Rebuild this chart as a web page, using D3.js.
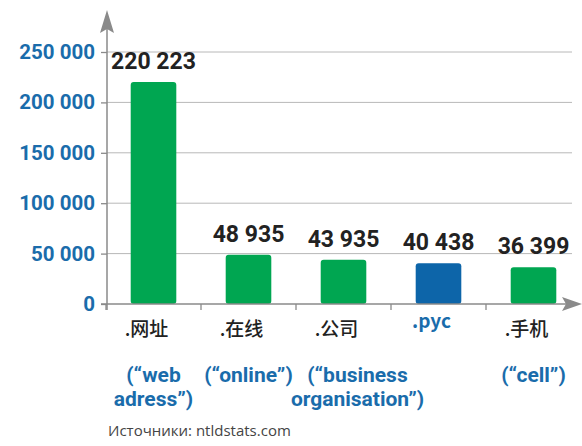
<!DOCTYPE html>
<html>
<head>
<meta charset="utf-8">
<script src="https://cdn.jsdelivr.net/npm/d3@7"></script>
<style>
body { margin: 0; background: #fff; }
</style>
</head>
<body>
<div id="chart-area"></div>
<script>
var categories = [".网址", ".在线", ".公司", ".рус", ".手机"];
var values = [220223, 48935, 43935, 40438, 36399];
var translations = [["(“web", "adress”)"], ["(“online”)"], ["(“business", "organisation”)"], [], ["(“cell”)"]];
var highlighted = [false, false, false, true, false];
var yTicks = [0, 50000, 100000, 150000, 200000, 250000];
var source = "Источники: ntldstats.com";

var width = 582;
var height = 446;
var green = "#00a651";
var blue = "#0d65a9";
var labelBlue = "#1a6cab";

var svg = d3.select("#chart-area")
	.append("svg")
		.attr("width", width)
		.attr("height", height)
		.style("font-family", "Roboto, 'Noto Sans', sans-serif");

var x = d3.scaleBand()
	.domain(categories)
	.range([106, 581])
	.paddingInner(0.52)
	.paddingOuter(0.26);

var y = d3.scaleLinear()
	.domain([0, 250000])
	.range([304, 52]);

var fmt = d3.formatLocale({decimal: ",", thousands: " ", grouping: [3], currency: ["", ""]}).format(",");

// grid lines
svg.append("g").selectAll("line").data(yTicks.slice(1))
	.enter().append("line")
		.attr("x1", 107).attr("x2", 572)
		.attr("y1", d => y(d)).attr("y2", d => y(d))
		.attr("stroke", "#b8b8b8")
		.attr("stroke-width", 1);

// y axis
var leftAxis = d3.axisLeft(y).tickValues(yTicks).tickSize(6).tickPadding(6)
	.tickFormat(d => fmt(d));
var yAxisGroup = svg.append("g")
	.attr("transform", "translate(107,0)")
	.call(leftAxis);
yAxisGroup.select(".domain").remove();
yAxisGroup.selectAll("line").attr("stroke", "#8a8a8a").attr("stroke-width", 1.3);
yAxisGroup.selectAll("text")
	.attr("fill", labelBlue)
	.attr("font-size", "20.5px")
	.attr("font-weight", "bold")
	.attr("font-family", "Roboto, sans-serif");

// bars
svg.append("g").selectAll("rect").data(values)
	.enter().append("rect")
		.attr("x", (d, i) => x(categories[i]))
		.attr("y", d => y(d))
		.attr("width", x.bandwidth())
		.attr("height", d => y(0) - y(d))
		.attr("rx", 3)
		.attr("fill", (d, i) => highlighted[i] ? blue : green);

// value labels
svg.append("g").selectAll("text").data(values)
	.enter().append("text")
		.attr("x", (d, i) => x(categories[i]) + x.bandwidth() / 2)
		.attr("y", d => y(d) - 13)
		.attr("text-anchor", "middle")
		.attr("font-size", "23px")
		.attr("font-weight", "bold")
		.attr("fill", "#222")
		.text(d => fmt(d));

// axes lines with arrows
var axisColor = "#8a8a8a";
svg.append("line")
	.attr("x1", 107).attr("x2", 107)
	.attr("y1", 310).attr("y2", 28)
	.attr("stroke", axisColor).attr("stroke-width", 1.5);
svg.append("path")
	.attr("d", "M107,10 L100,33 L107,29 L114,33 Z")
	.attr("fill", axisColor);
svg.append("line")
	.attr("x1", 101).attr("x2", 566)
	.attr("y1", y(0)).attr("y2", y(0))
	.attr("stroke", axisColor).attr("stroke-width", 1.5);
svg.append("path")
	.attr("d", "M582," + y(0) + " L562," + (y(0) - 7) + " L566," + y(0) + " L562," + (y(0) + 7) + " Z")
	.attr("fill", axisColor);

// x ticks at band boundaries
svg.append("g").selectAll("line").data(categories)
	.enter().append("line")
		.attr("x1", d => x(d) - (x.step() - x.bandwidth()) / 2)
		.attr("x2", d => x(d) - (x.step() - x.bandwidth()) / 2)
		.attr("y1", y(0)).attr("y2", y(0) + 6)
		.attr("stroke", axisColor).attr("stroke-width", 1.3);

// category labels
svg.append("g").selectAll("text").data(categories)
	.enter().append("text")
		.attr("x", d => x(d) + x.bandwidth() / 2 - 7)
		.attr("y", (d, i) => highlighted[i] ? 328 : 336)
		.attr("text-anchor", "middle")
		.attr("font-size", "19px")
		.attr("font-weight", (d, i) => highlighted[i] ? "bold" : 500)
		.attr("font-family", "'Noto Sans CJK SC', sans-serif")
		.attr("fill", (d, i) => highlighted[i] ? labelBlue : "#222")
		.text(d => d);

// translations
var tr = svg.append("g").selectAll("text").data(translations)
	.enter().append("text")
		.attr("x", (d, i) => x(categories[i]) + x.bandwidth() / 2 + (i == 2 ? 14 : 0))
		.attr("y", 382)
		.attr("text-anchor", "middle")
		.attr("font-size", "21px")
		.attr("font-weight", "bold")
		.attr("fill", labelBlue);
tr.selectAll("tspan").data(d => d)
	.enter().append("tspan")
		.attr("x", function() { return d3.select(this.parentNode).attr("x"); })
		.attr("dy", (d, j) => j == 0 ? 0 : 24)
		.text(d => d);

// source
svg.append("text")
	.attr("x", 108)
	.attr("y", 436)
	.attr("font-size", "15px")
	.attr("font-family", "'Open Sans', sans-serif")
	.attr("fill", "#444")
	.text(source);
</script>
</body>
</html>
